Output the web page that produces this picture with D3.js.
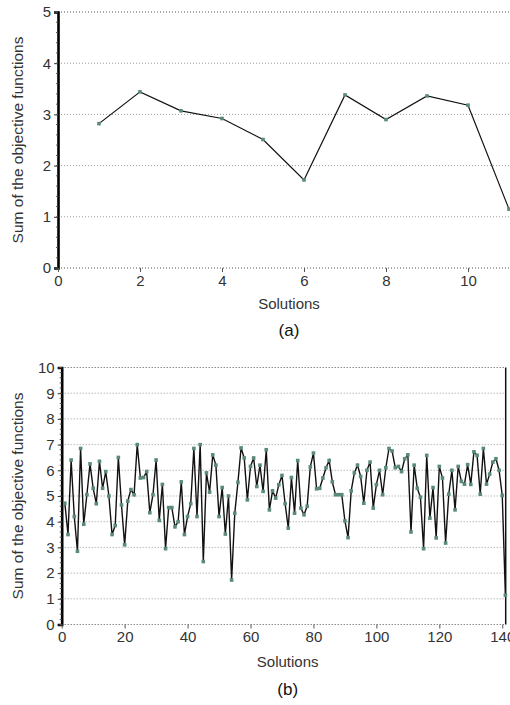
<!DOCTYPE html>
<html><head><meta charset="utf-8">
<script src="https://cdn.jsdelivr.net/npm/d3@7"></script>
<style>body{margin:0;background:#fff}svg{display:block}text{font-family:"Liberation Sans",Arial,sans-serif}</style>
</head><body>
<script>
// ---- data ----
const solutionsA = [1,2,3,4,5,6,7,8,9,10,11];
const valuesA = [2.82,3.44,3.07,2.92,2.51,1.72,3.38,2.9,3.36,3.18,1.15];
const xTicksA = [0,2,4,6,8,10];
const yTicksA = [0,1,2,3,4,5];

const valuesB = [
 4.72,3.5,6.4,4.2,2.85,6.85,3.9,5.05,6.25,5.3,
 4.7,6.35,5.3,5.95,5.0,3.5,3.85,6.5,4.65,3.1,
 4.8,5.25,5.05,7.0,5.7,5.72,5.95,4.35,5.05,6.4,
 4.05,5.45,2.95,4.55,4.55,3.8,4.0,5.55,3.5,4.2,
 4.7,6.85,4.2,7.0,2.45,5.9,5.15,6.6,6.2,4.2,
 5.33,3.52,5.0,1.73,4.33,5.53,6.87,6.48,4.85,6.15,
 6.48,5.37,6.2,5.18,6.8,4.46,5.2,4.92,5.44,5.8,
 4.7,3.75,5.72,4.33,6.38,4.53,4.27,4.6,6.13,6.67,
 5.28,5.3,5.7,6.1,6.38,5.55,5.05,5.05,5.05,4.03,
 3.38,5.2,5.9,6.2,5.76,4.72,6.0,6.32,4.53,5.44,
 6.0,5.05,6.1,6.85,6.75,6.1,6.15,5.95,6.45,6.6,
 3.6,6.2,5.3,4.95,2.95,6.58,4.14,5.33,3.37,6.15,
 5.7,3.17,5.07,6.0,4.46,6.15,5.57,5.46,6.22,5.45,
 6.72,6.58,5.07,6.85,5.46,5.85,6.32,6.45,6.0,5.02,
 1.14];
const solutionsB = valuesB.map((v,i)=>i+1);
const xTicksB = [0,20,40,60,80,100,120,140];
const yTicksB = [0,1,2,3,4,5,6,7,8,9,10];

const yTitle = "Sum of the objective functions";
const xTitle = "Solutions";

const svg = d3.select("body").append("svg").attr("width",510).attr("height",705);

function panel(opt){
  const {xs, ys, xTicks, yTicks, xs_data, ys_data, label, rightBorder, titleY, labelY, axisTitleX} = opt;
  const g = svg.append("g");
  const [x0,x1] = xs.range(); const [y0,y1] = ys.range();
  // gridlines (dotted)
  g.selectAll("line.grid").data(yTicks).join("line")
    .attr("x1",x0).attr("x2",opt.gridRight).attr("y1",d=>ys(d)).attr("y2",d=>ys(d))
    .attr("stroke",d=> (d===0||d===yTicks[yTicks.length-1])?"#555":"#999")
    .attr("stroke-width",1).attr("stroke-dasharray","1,2");
  if(rightBorder){
    g.append("line").attr("x1",opt.gridRight).attr("x2",opt.gridRight).attr("y1",y0).attr("y2",y1)
      .attr("stroke","#111").attr("stroke-width",1.5);
  }
  // y axis
  const yAxis = d3.axisLeft(ys).tickValues(yTicks).tickSize(4).tickPadding(3).tickFormat(d3.format("d"));
  const ya = g.append("g").attr("transform",`translate(${x0},0)`).call(yAxis);
  ya.select(".domain").attr("stroke","#000").attr("stroke-width",2.6);
  ya.selectAll(".tick line").attr("stroke","#333");
  ya.selectAll("text").attr("font-size",15).attr("fill","#333");
  // minor ticks on y axis
  const minor = d3.range(yTicks[0], yTicks[yTicks.length-1]+1e-9, (yTicks[1]-yTicks[0])/5);
  g.selectAll("line.minor").data(minor).join("line")
    .attr("x1",x0-2).attr("x2",x0).attr("y1",d=>ys(d)).attr("y2",d=>ys(d)).attr("stroke","#555");
  // x axis ticks and labels
  const xAxis = d3.axisBottom(xs).tickValues(xTicks).tickSize(4).tickPadding(3).tickFormat(d3.format("d"));
  const xa = g.append("g").attr("transform",`translate(0,${y0})`).call(xAxis);
  xa.select(".domain").remove();
  xa.selectAll(".tick line").attr("stroke","#555");
  xa.selectAll("text").attr("font-size",15).attr("fill","#333");
  // line and markers
  const pts = xs_data.map((d,i)=>[d, ys_data[i]]);
  g.append("path").datum(pts)
    .attr("d", d3.line().x(d=>xs(d[0])).y(d=>ys(d[1])))
    .attr("fill","none").attr("stroke","#111").attr("stroke-width",opt.lw);
  g.selectAll("rect.m").data(pts).join("rect")
    .attr("x",d=>xs(d[0])-1.8).attr("y",d=>ys(d[1])-1.8).attr("width",3.6).attr("height",3.6)
    .attr("fill","#5a8a7c");
  // titles
  g.append("text").attr("x",(x0+opt.gridRight)/2+4).attr("y",titleY).attr("text-anchor","middle")
    .attr("font-size",15).attr("fill","#333").text(xTitle);
  g.append("text").attr("x",(x0+opt.gridRight)/2+4).attr("y",labelY).attr("text-anchor","middle")
    .attr("font-size",17).attr("fill","#111").text(label);
  g.append("text").attr("transform",`translate(${axisTitleX},${(y0+y1)/2}) rotate(-90)`)
    .attr("text-anchor","middle").attr("font-size",15.5).attr("fill","#333").text(yTitle);
}

const xsA = d3.scaleLinear().domain([0,11]).range([58,509]);
const ysA = d3.scaleLinear().domain([0,5]).range([268,12]);
panel({xs:xsA, ys:ysA, xTicks:xTicksA, yTicks:yTicksA, xs_data:solutionsA, ys_data:valuesA,
  label:"(a)", rightBorder:false, gridRight:512, titleY:309, labelY:336, axisTitleX:23, lw:1.2});

const xsB = d3.scaleLinear().domain([0,141]).range([61.7,505.4]);
const ysB = d3.scaleLinear().domain([0,10]).range([624.5,367.5]);
panel({xs:xsB, ys:ysB, xTicks:xTicksB, yTicks:yTicksB, xs_data:solutionsB, ys_data:valuesB,
  label:"(b)", rightBorder:true, gridRight:505.7, titleY:667, labelY:695, axisTitleX:23, lw:1.4});
</script>
</body></html>
